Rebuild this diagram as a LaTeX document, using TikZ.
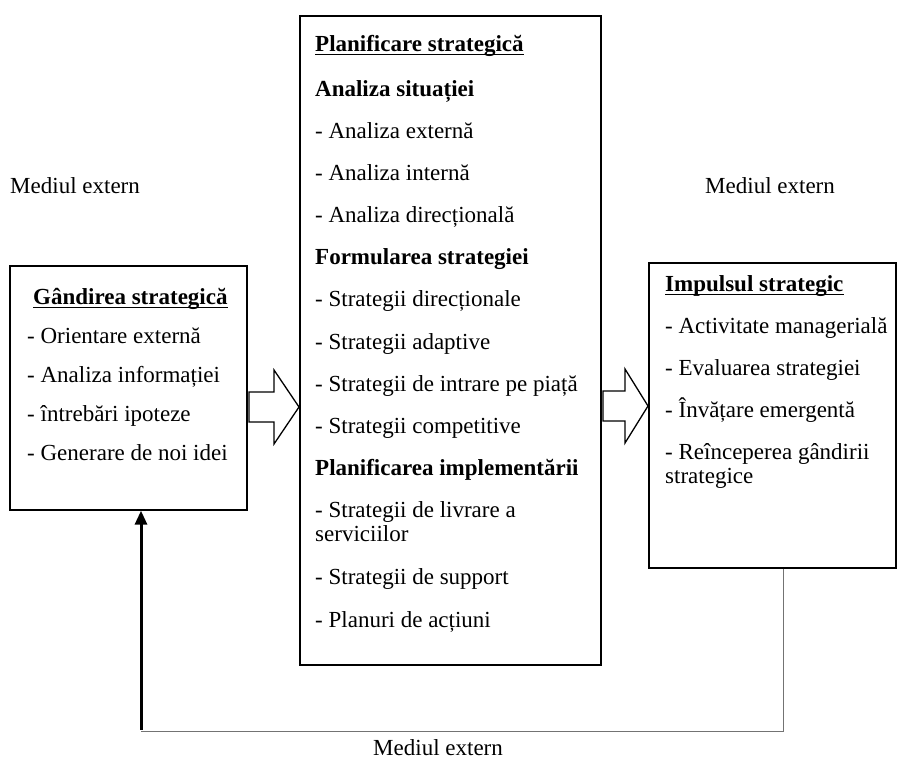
\documentclass[tikz,border=0pt]{standalone}
\usepackage{fontspec}
\setmainfont{Liberation Serif}
\usetikzlibrary{arrows.meta}
\tikzset{
  box/.style={draw, line width=1.3pt, inner sep=0pt},
  txt/.style={anchor=mid west, inner sep=0pt, font=\fontsize{23}{26}\selectfont},
  hd/.style={txt, font=\fontsize{23}{26}\selectfont\bfseries},
  blockarrow/.style={draw, line width=1.3pt, line join=miter, fill=white},
  thinline/.style={draw=black!55, line width=1pt},
  thickarrow/.style={draw, line width=3pt, -{Triangle[length=14pt,width=12pt]}},
}
\newcommand{\ul}[1]{\draw[line width=1.1pt] ([yshift=-3pt]#1.base west) -- ([yshift=-3pt]#1.base east);}
\begin{document}
\begin{tikzpicture}[x=1pt,y=-1pt]
\useasboundingbox (0,0) rectangle (904,760);
% boxes
\node[box, minimum width=237pt, minimum height=244pt] (L) at (128.5,388) {};
\node[box, minimum width=301pt, minimum height=649pt] (M) at (450.5,340.5) {};
\node[box, minimum width=247pt, minimum height=305pt] (R) at (772.5,415.5) {};
% outside labels
\node[txt] (me1) at (10,191) {Mediul extern};
\node[txt] (me2) at (705,191) {Mediul extern};
\node[txt] (me3) at (373,753) {Mediul extern};
% left box
\node[hd] (l0) at (33,302) {Gândirea strategică}; \ul{l0}
\node[txt] (l1) at (27,341) {- Orientare externă};
\node[txt] (l2) at (27,380) {- Analiza informației};
\node[txt] (l3) at (27,419) {- întrebări ipoteze};
\node[txt] (l4) at (27,458) {- Generare de noi idei};
% middle box
\node[hd] (m0) at (315,49) {Planificare strategică}; \ul{m0}
\node[hd] (m1) at (315,94) {Analiza situației};
\node[txt] (m2) at (315,136) {- Analiza externă};
\node[txt] (m3) at (315,178) {- Analiza internă};
\node[txt] (m4) at (315,220) {- Analiza direcțională};
\node[hd] (m5) at (315,262) {Formularea strategiei};
\node[txt] (m6) at (315,304) {- Strategii direcționale};
\node[txt] (m7) at (315,347) {- Strategii adaptive};
\node[txt] (m8) at (315,389) {- Strategii de intrare pe piață};
\node[txt] (m9) at (315,431) {- Strategii competitive};
\node[hd] (m10) at (315,473) {Planificarea implementării};
\node[txt] (m11) at (315,515) {- Strategii de livrare a};
\node[txt] (m12) at (315,539) {serviciilor};
\node[txt] (m13) at (315,582) {- Strategii de support};
\node[txt] (m14) at (315,625) {- Planuri de acțiuni};
% right box
\node[hd] (r0) at (665,289) {Impulsul strategic}; \ul{r0}
\node[txt] (r1) at (665,331) {- Activitate managerială};
\node[txt] (r2) at (665,373) {- Evaluarea strategiei};
\node[txt] (r3) at (665,415) {- Învățare emergentă};
\node[txt] (r4) at (665,457) {- Reînceperea gândirii};
\node[txt] (r5) at (665,481) {strategice};
% block arrows
\draw[blockarrow] (249,392) -- (274,392) -- (274,370) -- (299,407) -- (274,444) -- (274,422) -- (249,422) -- cycle;
\draw[blockarrow] (603,391) -- (625,391) -- (625,369) -- (648,406) -- (625,443) -- (625,421) -- (603,421) -- cycle;
% feedback loop
\coordinate (fbR) at (783,731);
\coordinate (fbL) at (141,731);
\draw[thinline] (fbR |- R.south) -- (fbR) -- (fbL);
\draw[thickarrow] ([yshift=1.5pt]fbL) -- (fbL |- L.south);
\end{tikzpicture}
\end{document}
